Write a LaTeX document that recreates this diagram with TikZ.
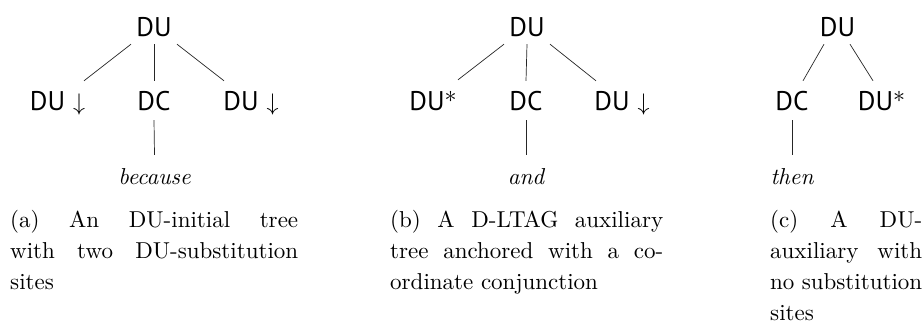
\RequirePackage{fix-cm}
\documentclass[tikz,border=0pt]{standalone}
\usepackage{fontspec}
\setmainfont{lmroman10}[Extension=.otf, UprightFont=*-regular, ItalicFont=*-italic, BoldFont=*-bold, BoldItalicFont=*-bolditalic]
\setsansfont{PT Sans}
\usetikzlibrary{calc}
\newcommand{\subarr}{\hspace{8pt}{\fontsize{24}{24}\selectfont$\downarrow$}}
\newcommand{\footstar}{\raisebox{7.5pt}{\fontsize{24}{24}\selectfont$\ast$}}
\begin{document}
\begin{tikzpicture}[x=1pt,y=-1pt,
  lab/.style={font=\sffamily\fontsize{27}{27}\selectfont, anchor=base, inner sep=0pt, text height=19pt, text depth=0pt},
  leaf/.style={font=\itshape\fontsize{23}{23}\selectfont, anchor=base, inner sep=0pt, text height=16pt, text depth=0pt},
  capt/.style={font=\fontsize{23}{31}\selectfont, anchor=base west, inner sep=0pt},
  br/.style={line width=0.7pt, black!85}]
\useasboundingbox (0,0) rectangle (923,322);

% (a)
\node[lab] (rA) at (154,36) {DU};
\node[lab] (lA) at (57.5,110) {DU\subarr};
\node[lab] (mA) at (154,110) {DC};
\node[lab] (rgA) at (251,110) {DU\subarr};
\node[leaf] (leafA) at (154.5,184) {because};
\draw[br] ($(rA.south)+(-23,8)$) -- ($(lA.north)+(26.5,-10)$);
\draw[br] ($(rA.south)+(0,8)$) -- ($(mA.north)+(0,-10)$);
\draw[br] ($(rA.south)+(23,8)$) -- ($(rgA.north)+(-27,-10)$);
\draw[br] ($(mA.south)+(0,10)$) -- ($(leafA.north)+(0,-13)$);
\node[capt, text width=288pt] (capA) at (10,227) {\hyphenpenalty=10000\exhyphenpenalty=10000
  (a)\hfill An\hfill DU-initial\hfill tree\newline
  with\hfill two\hfill DU-substitution\newline
  sites};

% (b)
\node[lab] (rB) at (527,36) {DU};
\node[lab] (lB) at (433,110) {DU\footstar};
\node[lab] (mB) at (526,110) {DC};
\node[lab] (rgB) at (622,110) {DU\subarr};
\node[leaf] (leafB) at (526,184) {and};
\draw[br] ($(rB.south)+(-23,8)$) -- ($(lB.north)+(25,-11)$);
\draw[br] ($(rB.south)+(0,8)$) -- ($(mB.north)+(0,-10)$);
\draw[br] ($(rB.south)+(23,8)$) -- ($(rgB.north)+(-26,-10)$);
\draw[br] ($(mB.south)+(0,10)$) -- ($(leafB.north)+(0,-13)$);
\node[capt, text width=273pt] (capB) at (390,227) {\hyphenpenalty=10000\exhyphenpenalty=10000
  (b)\hfill A\hfill D-LTAG\hfill auxiliary\newline
  tree\hfill anchored\hfill with\hfill a\hfill co-\newline
  ordinate conjunction};

% (c)
\node[lab] (rC) at (837.5,36) {DU};
\node[lab] (mC) at (792,110) {DC};
\node[lab] (rgC) at (881.5,110) {DU\footstar};
\node[leaf] (leafC) at (792,184) {then};
\draw[br] ($(rC.south)+(-13.5,8)$) -- ($(mC.north)+(11,-10)$);
\draw[br] ($(rC.south)+(12.5,8)$) -- ($(rgC.north)+(-8.5,-10)$);
\draw[br] ($(mC.south)+(0,10)$) -- ($(leafC.north)+(0,-13)$);
\node[capt, text width=152pt] (capC) at (770,227) {\hyphenpenalty=10000\exhyphenpenalty=10000
  (c)\hfill A\hfill DU-\newline
  auxiliary\hfill with\newline
  no\hfill substitution\newline
  sites};
\end{tikzpicture}
\end{document}
